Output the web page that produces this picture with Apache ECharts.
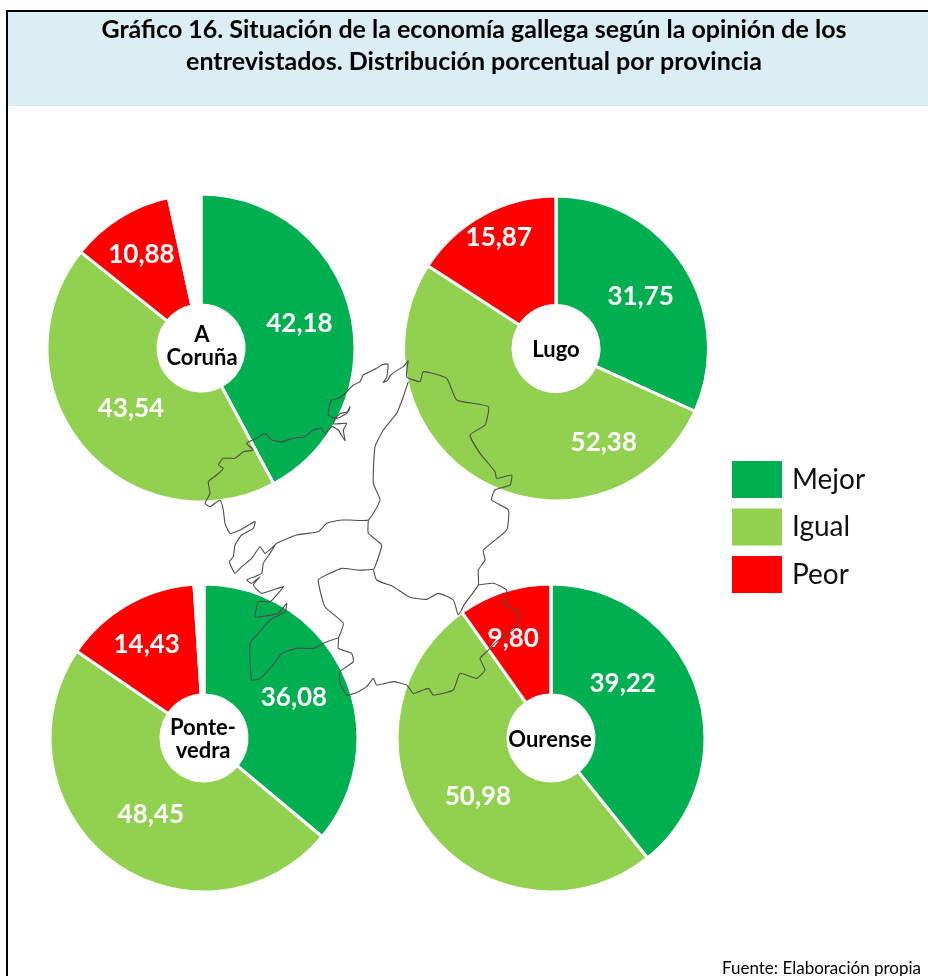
<!DOCTYPE html>
<html><head><meta charset="utf-8">
<style>html,body{margin:0;padding:0;background:#fff}#c{width:928px;height:976px}</style>
<script src="https://cdn.jsdelivr.net/npm/echarts@6/dist/echarts.min.js"></script>
</head><body><div id="c"></div>
<script>
const provinces = ['A\nCoruña','Lugo','Ponte-\nvedra','Ourense'];
const categories = ['Mejor','Igual','Peor'];
const mejor = [42.18,31.75,36.08,39.22];
const igual = [43.54,52.38,48.45,50.98];
const peor  = [10.88,15.87,14.43,9.80];
const sinRespuesta = [3.40,0,1.04,0];
const titleLines = 'Gráfico 16. Situación de la economía gallega según la opinión de los\nentrevistados. Distribución porcentual por provincia';
const sourceText = 'Fuente: Elaboración propia';
const colors = ['#00B050','#92D050','#FF0000'];

const centers = [[201,348],[556,348.5],[204,738],[551,738]];
const outerR = [154,152.5,154,154];
const centerNudge = [[2,-1.5],[1,1],[0,1],[0,2]];
const labelNudge = [
  [[0,0],[8,-4],[-6,-7]],
  [[0,3],[96,6],[-9,-22]],
  [[-2,3],[8,-4],[-7,-5]],
  [[-24,-21],[8,-3],[-7,-3]]
];

// Outline of Galicia, traced as decoration (3x crop coordinates, origin 190,350)
const outlines = [
 [655,32,640,50,620,62,600,78,592,92,580,97,590,82,594,42,575,45,560,55,540,65,520,75,510,95,490,105,475,120,460,135,445,145,425,150,418,170,415,195,440,205,470,190,480,170,475,185,452,190,436,205,430,222,470,220,460,240,465,272,445,240,425,230,405,250,395,235,370,240,345,260,310,265,275,275,245,270,225,250,200,265,170,280,190,300,160,305,135,325,100,325,85,345,100,355,80,375,55,395,60,430,45,460,60,470,90,450,100,480,105,520,120,550,150,540,195,515,190,535,155,555,135,585,130,620,118,635,135,670,155,650,185,625,210,590,225,610,255,585,240,610,220,640,215,670,195,680,170,690,185,700,210,680,190,705,215,730,280,710,260,735,240,755,205,755,195,800,215,800,265,790,290,760,285,785,240,810,205,850,180,880,185,990,210,985,245,950,275,910,320,895,370,895,400,880,445,865,445,895,485,910,490,935,450,965,450,1000,470,1035,495,1030,530,1010,550,985,560,1005,610,995,650,1005,670,1030,715,1015,730,1035,790,1020,810,970,860,985,885,960,870,925,890,905,920,875,980,830,985,790,945,760,950,720,910,700,865,705],
 [655,32,650,80,690,95,700,65,770,85,800,150,895,170,885,225,840,255,870,310,915,365,920,385,965,375,960,405,915,420,905,450,955,480,950,540,880,600,885,630,865,660,865,705,825,760,805,795,790,750,745,730,710,748,660,742,610,710,560,690,550,658],
 [655,95,640,140,620,190,580,240,555,290,550,400,570,450,535,510,480,510,455,510,410,520,385,545,320,555,260,580,255,585],
 [535,510,535,550,575,585,555,650,550,658,500,660,455,655,420,670,385,690,405,770,460,820,445,865]
];
const toPoints = a => { const p=[]; for(let i=0;i<a.length;i+=2) p.push([190+a[i]/3,350+a[i+1]/3]); return p; };

const fmt = v => v.toFixed(2).replace('.',',');
const FONT = 'Lato';

const series = provinces.map((name,i)=>({
  type:'pie', name, center:centers[i], radius:[43,outerR[i]], startAngle:90, clockwise:true,
  avoidLabelOverlap:false, silent:true, animation:false,
  itemStyle:{borderColor:'#fff',borderWidth:3},
  labelLine:{show:false},
  label:{show:true,position:'inside',color:'#fff',fontFamily:FONT,fontWeight:'bold',fontSize:26,
    formatter:p=>fmt(p.value)},
  data:[
    ...categories.map((c,k)=>({name:c,value:[mejor,igual,peor][k][i],
      itemStyle:{color:colors[k]},label:{offset:labelNudge[i][k]}})),
    {name:'NS/NC',value:sinRespuesta[i],itemStyle:{color:'#fff',borderColor:'#fff'},label:{show:false}}
  ]
}));

const option = {
  animation:false, backgroundColor:'#fff', color:colors,
  title:[
    {text:titleLines,left:474,top:14,padding:0,textAlign:'center',
     textStyle:{fontFamily:FONT,fontWeight:'bold',fontSize:25,lineHeight:32,color:'#000'}},
    ...provinces.map((p,i)=>({text:p,left:centers[i][0]-1+centerNudge[i][0],top:centers[i][1]+centerNudge[i][1],padding:0,textAlign:'center',textVerticalAlign:'middle',
      textStyle:{fontFamily:FONT,fontWeight:'bold',fontSize:22,lineHeight:23,color:'#000'}})),
    {text:sourceText,left:722,top:960,padding:0,textStyle:{fontFamily:FONT,fontWeight:'normal',fontSize:17,color:'#000'}}
  ],
  legend:{orient:'vertical',left:732,top:461,padding:0,itemWidth:50,itemHeight:37,itemGap:10.5,data:categories,selectedMode:false,
    icon:'rect',itemStyle:{borderWidth:0},
    textStyle:{fontFamily:FONT,fontSize:28,color:'#111',padding:[0,0,0,5]}},
  series,
  graphic:[
    {type:'rect',z:-1,silent:true,shape:{x:8,y:12,width:920,height:94},style:{fill:'#DAEEF3'}},
    {type:'rect',z:-1,silent:true,shape:{x:6,y:10,width:922,height:2},style:{fill:'#000'}},
    {type:'rect',z:-1,silent:true,shape:{x:6,y:10,width:2,height:966},style:{fill:'#000'}},
    ...outlines.map(o=>({type:'polyline',z:50,silent:true,shape:{points:toPoints(o),smooth:0.15},
      style:{fill:null,stroke:'#4d4d4d',lineWidth:1.1}}))
  ]
};
echarts.init(document.getElementById('c')).setOption(option);
</script></body></html>
